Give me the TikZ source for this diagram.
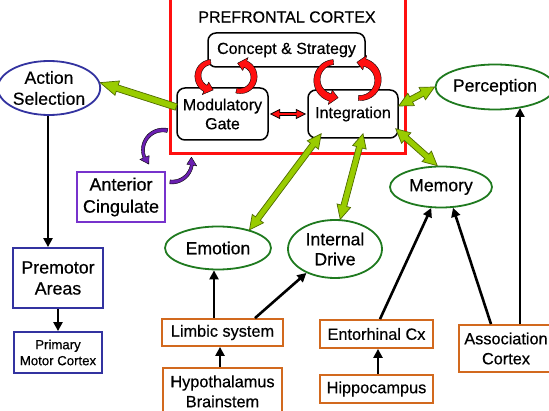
\documentclass[tikz,border=0pt]{standalone}
\usepackage{fontspec}
\setmainfont{Liberation Sans}[FakeBold=0.45]
\usetikzlibrary{calc,shapes.geometric,arrows.meta}
\definecolor{gfill}{HTML}{99CC00}
\definecolor{gline}{HTML}{4F6B00}
\definecolor{egreen}{HTML}{1F7A1F}
\definecolor{navyb}{HTML}{3333A0}
\definecolor{purp}{HTML}{7733CC}
\definecolor{purpf}{HTML}{6A1FB0}
\definecolor{orng}{HTML}{D2691E}
\definecolor{pfred}{HTML}{FF1010}
\newcommand{\fs}[2]{\fontsize{#1}{#2}\selectfont}
% single-headed block arrow
\newcommand{\greenarrow}[2]{%
  \path (#1) coordinate (ga) (#2) coordinate (gb);
  \coordinate (gh) at ($(gb)!18pt!(ga)$);
  \filldraw[fill=gfill, draw=gline, line width=0.7pt, line join=miter]
    ($(ga)!3.3pt!90:(gb)$) -- ($(gh)!3.3pt!90:(gb)$) -- ($(gh)!7.5pt!90:(gb)$) -- (gb)
    -- ($(gh)!7.5pt!-90:(gb)$) -- ($(gh)!3.3pt!-90:(gb)$) -- ($(ga)!3.3pt!-90:(gb)$) -- cycle;
}
% double-headed block arrow: #3 half shaft, #4 half head, #5 head length, #6 fill, #7 line
\newcommand{\dblarrow}[7]{%
  \path (#1) coordinate (ga) (#2) coordinate (gb);
  \coordinate (gha) at ($(ga)!#5!(gb)$);
  \coordinate (ghb) at ($(gb)!#5!(ga)$);
  \filldraw[fill=#6, draw=#7, line width=0.7pt, line join=miter]
    (ga) -- ($(gha)!#4!90:(gb)$) -- ($(gha)!#3!90:(gb)$) -- ($(ghb)!#3!90:(gb)$) -- ($(ghb)!#4!90:(gb)$) -- (gb)
    -- ($(ghb)!#4!-90:(gb)$) -- ($(ghb)!#3!-90:(gb)$) -- ($(gha)!#3!-90:(gb)$) -- ($(gha)!#4!-90:(gb)$) -- cycle;
}
% curved tapered arrow: cx cy r a0 a1 w0 w1 hw fill
\newcommand{\curvedarrow}[9]{%
  \pgfmathsetmacro{\myhd}{8/(#3)*180/pi}
  \pgfmathsetmacro{\myae}{(#5)-\myhd}
  \filldraw[fill=#9, draw=black, line width=0.4pt, line join=round]
    plot[domain=#4:\myae, samples=24, variable=\t]
      ({(#1)+((#3)+(#6)+((#7)-(#6))*(\t-(#4))/(\myae-(#4)))*cos(\t)},
       {(#2)+((#3)+(#6)+((#7)-(#6))*(\t-(#4))/(\myae-(#4)))*sin(\t)})
    -- ({(#1)+((#3)+(#8))*cos(\myae)}, {(#2)+((#3)+(#8))*sin(\myae)})
    -- ({(#1)+(#3)*cos(#5)}, {(#2)+(#3)*sin(#5)})
    -- ({(#1)+((#3)-(#8))*cos(\myae)}, {(#2)+((#3)-(#8))*sin(\myae)})
    -- plot[domain=\myae:#4, samples=24, variable=\t]
      ({(#1)+((#3)-(#6)-((#7)-(#6))*(\t-(#4))/(\myae-(#4)))*cos(\t)},
       {(#2)+((#3)-(#6)-((#7)-(#6))*(\t-(#4))/(\myae-(#4)))*sin(\t)})
    -- cycle;
}
\tikzset{
  pfbox/.style={draw=black, line width=1.5pt, rounded corners=8pt, fill=white, inner sep=0pt, align=center, font=\fs{16}{19}},
  ellg/.style={ellipse, draw=egreen, line width=1.8pt, fill=white, inner sep=0pt, align=center, font=\fs{17.6}{20}},
  boxo/.style={rectangle, draw=orng, line width=1.8pt, fill=white, inner sep=0pt, align=center, font=\fs{16.3}{20}},
  boxb/.style={rectangle, draw=navyb, line width=1.8pt, fill=white, inner sep=0pt, align=center},
  barrow/.style={line width=2.6pt, -{Triangle[length=9pt,width=9pt]}},
}
\begin{document}
\begin{tikzpicture}[x=1pt,y=1pt]
\useasboundingbox (0,0) rectangle (549,-411);
\fill[white] (0,0) rectangle (549,-411);
% prefrontal frame
\draw[pfred, line width=3pt] (170,8) rectangle (405,-154);
\node[font=\fs{16}{18}] (title) at (287,-17) {PREFRONTAL CORTEX};
\node[pfbox, minimum width=157pt, minimum height=34pt] (concept) at (286.5,-50) {Concept \& Strategy};
\node[pfbox, minimum width=91pt, minimum height=52pt] (modgate) at (222.5,-114) {Modulatory\\Gate};
\node[pfbox, minimum width=90pt, minimum height=48pt] (integ) at (353,-114) {Integration};
% left side
\node[ellipse, draw=navyb, line width=1.8pt, inner sep=0pt, align=center, minimum width=94pt, minimum height=54pt, font=\fs{17.6}{21}] (action) at (49,-88) {Action\\Selection};
\node[rectangle, draw=purp, line width=1.8pt, inner sep=0pt, align=center, minimum width=88pt, minimum height=50pt, font=\fs{18}{22}] (antcing) at (121,-197) {Anterior\\Cingulate};
\node[boxb, minimum width=90pt, minimum height=60pt, font=\fs{17.8}{21}] (premotor) at (58,-278) {Premotor\\Areas};
\node[boxb, minimum width=88pt, minimum height=41pt, font=\fs{13.2}{16}] (primary) at (58,-352.5) {Primary\\Motor Cortex};
% ellipses
\node[ellg, minimum width=104pt, minimum height=45pt] (perception) at (495,-87) {Perception};
\node[ellg, minimum width=102pt, minimum height=41pt] (memory) at (441,-187) {Memory};
\node[ellg, minimum width=106pt, minimum height=43pt] (emotion) at (218,-248) {Emotion};
\node[ellg, minimum width=94pt, minimum height=58pt] (idrive) at (335,-249) {Internal\\Drive};
% orange boxes
\node[boxo, minimum width=121pt, minimum height=27pt] (limbic) at (222.5,-332.5) {Limbic system};
\node[boxo, minimum width=119pt, minimum height=47pt, anchor=north] (hypo) at (222.5,-367) {Hypothalamus\\Brainstem};
\node[boxo, minimum width=113pt, minimum height=28pt] (entor) at (376.5,-334) {Entorhinal Cx};
\node[boxo, minimum width=113pt, minimum height=28pt] (hippo) at (376.5,-389) {Hippocampus};
\node[boxo, minimum width=94pt, minimum height=47pt] (assoc) at (506,-348.5) {Association\\Cortex};
% black arrows
\draw[barrow] ([xshift=-1pt]action.south) -- ([xshift=-10pt]premotor.north);
\draw[barrow] (premotor.south) -- (primary.north);
\draw[barrow] ([xshift=-2.5pt]hypo.north) -- ([xshift=-2.5pt]limbic.south);
\draw[barrow] ([xshift=-8.5pt]limbic.north) -- ([xshift=-4pt]emotion.south);
\draw[barrow] ([xshift=32.5pt]limbic.north) -- (idrive.220);
\draw[barrow] ([xshift=1.5pt]hippo.north) -- ([xshift=1.5pt]entor.south);
\draw[barrow] ([xshift=3.5pt]entor.north) -- (memory.245);
\draw[barrow] ([xshift=-15pt]assoc.north) -- (memory.300);
\draw[barrow] ([xshift=14pt]assoc.north) -- ([xshift=14pt]assoc.north |- perception.322);
% green block arrows
\greenarrow{[yshift=7pt]modgate.west}{action.6}
\dblarrow{[yshift=8pt]integ.east}{perception.west}{3pt}{7pt}{14pt}{gfill}{gline}
\dblarrow{[xshift=-3pt,yshift=10pt]integ.south east}{memory.100}{3pt}{7pt}{14pt}{gfill}{gline}
\dblarrow{[xshift=14pt,yshift=5pt]integ.south west}{emotion.30}{3pt}{7pt}{14pt}{gfill}{gline}
\dblarrow{[xshift=10pt,yshift=5pt]integ.south}{idrive.80}{3pt}{7pt}{14pt}{gfill}{gline}
% red double arrow
\dblarrow{[xshift=2pt]modgate.east}{[xshift=-2pt]integ.west}{1.5pt}{4.5pt}{9pt}{pfred}{black}
% red curved arrows
\curvedarrow{212}{-76}{14}{95}{275}{2.5}{3.5}{7}{pfred}
\curvedarrow{240}{-77}{14}{-105}{100}{2.5}{3.5}{7}{pfred}
\curvedarrow{335}{-80}{18}{95}{280}{2.5}{3.8}{7.5}{pfred}
\curvedarrow{360}{-80}{18}{-95}{100}{2.5}{3.8}{7.5}{pfred}
% purple curved arrows
\curvedarrow{163}{-150}{20}{77}{225}{2}{1.5}{5}{purpf}
\curvedarrow{172}{-162}{20}{264}{374}{2}{1.5}{5}{purpf}
\end{tikzpicture}
\end{document}
